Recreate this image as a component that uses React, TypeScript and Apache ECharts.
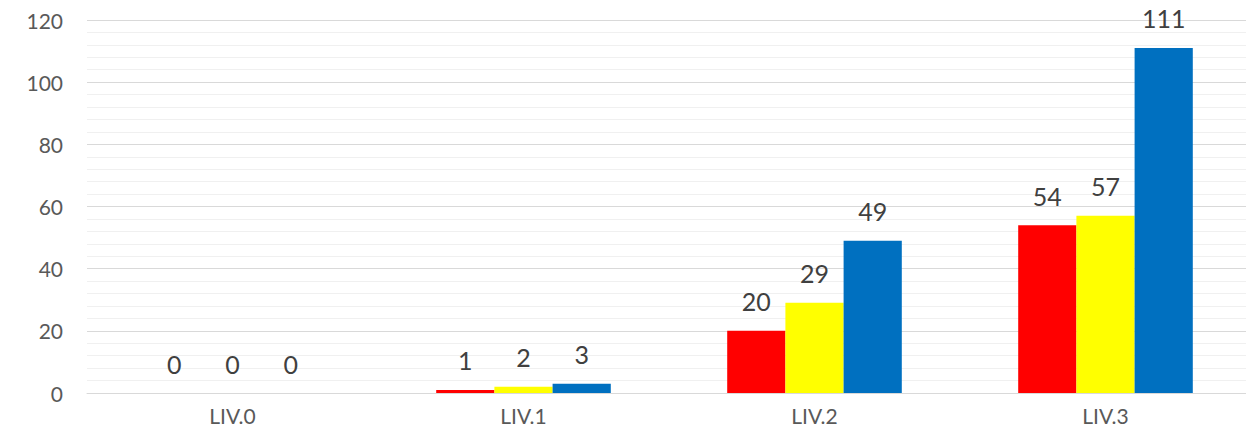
import React, { useEffect, useRef } from "react";
import * as echarts from "echarts";

const categories = ["LIV.0", "LIV.1", "LIV.2", "LIV.3"];
const seriesA = [0, 1, 20, 54];
const seriesB = [0, 2, 29, 57];
const seriesC = [0, 3, 49, 111];
const seriesNames = ["A", "B", "C"];
const seriesColors = ["#FF0000", "#FFFF00", "#0070C0"];

export default function App() {
  const ref = useRef<HTMLDivElement>(null);
  useEffect(() => {
    if (!ref.current) return;
    const chart = echarts.init(ref.current, null, { renderer: "svg" });
    const data = [seriesA, seriesB, seriesC];
    chart.setOption({
      animation: false,
      textStyle: { fontFamily: "Lato" },
      grid: { left: 87, right: 0, top: 20, bottom: 45 },
      xAxis: {
        type: "category",
        data: categories,
        axisLine: { lineStyle: { color: "#d9d9d9", width: 1 } },
        axisTick: { show: false },
        axisLabel: { color: "#595959", fontSize: 21, margin: 12, fontFamily: "Lato" },
      },
      yAxis: {
        type: "value",
        min: 0,
        max: 120,
        interval: 20,
        axisLine: { show: false },
        axisTick: { show: false },
        axisLabel: { color: "#595959", fontSize: 21, margin: 24, fontFamily: "Lato" },
        splitLine: { lineStyle: { color: "#d9d9d9", width: 1 } },
        minorTick: { show: false, splitNumber: 5 },
        minorSplitLine: { show: true, lineStyle: { color: "#f0f0f0", width: 1 } },
      },
      series: data.map((d, i) => ({
        name: seriesNames[i],
        type: "bar",
        data: d,
        barGap: "0%",
        barCategoryGap: "40%",
        itemStyle: { color: seriesColors[i] },
        label: {
          show: true,
          position: "top",
          distance: 17,
          color: "#404040",
          fontSize: 25,
          fontFamily: "Lato",
        },
      })),
    });
    return () => chart.dispose();
  }, []);
  return (
    <div
      style={{ position: "absolute", left: 0, top: 0, width: 1246, height: 438, background: "#fff", overflow: "hidden" }}
    >
      <div ref={ref} style={{ width: 1251, height: 438 }} />
    </div>
  );
}
